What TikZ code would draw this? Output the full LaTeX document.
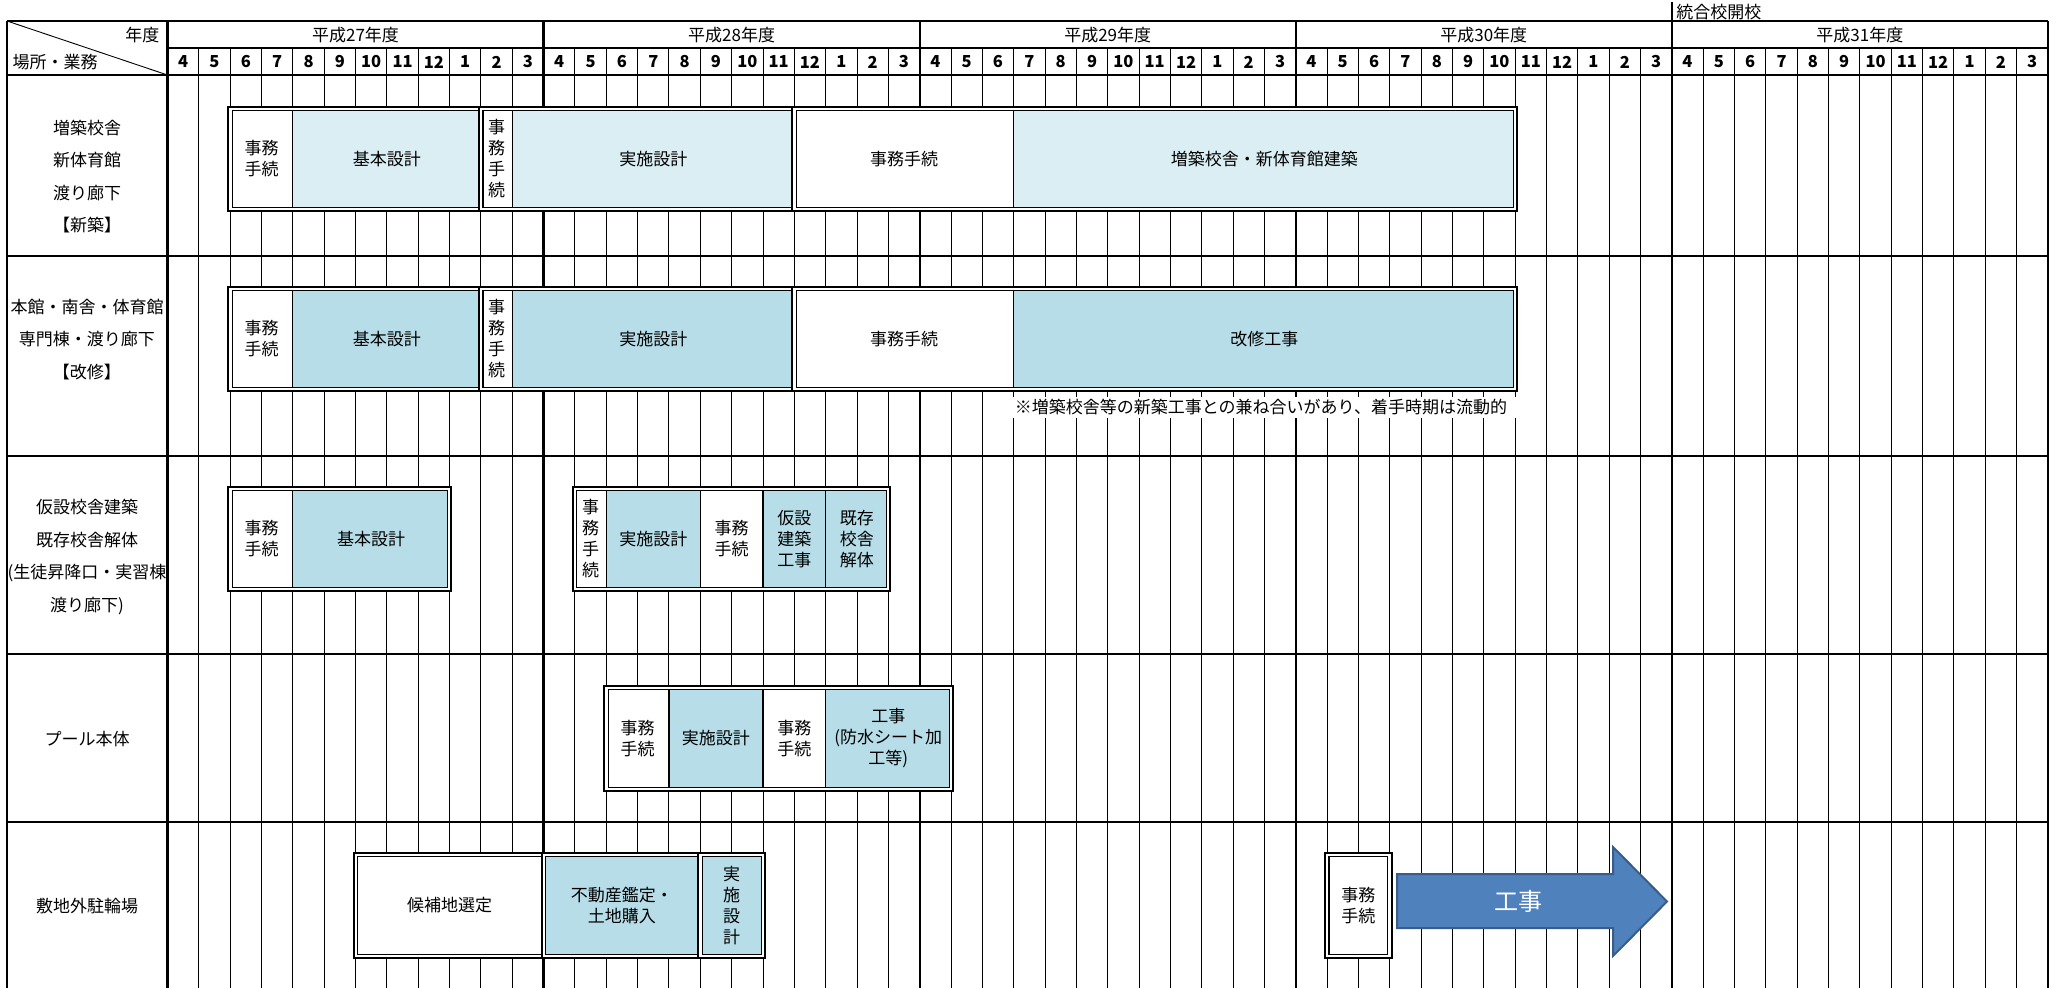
\documentclass[tikz,border=0pt]{standalone}
\usepackage{fontspec}
\setmainfont{Noto Sans CJK JP}
\usepackage{tikz}
\usetikzlibrary{calc}
\definecolor{lblue}{HTML}{DAEEF3}
\definecolor{mblue}{HTML}{B7DEE8}
\definecolor{arwfill}{HTML}{4F81BD}
\definecolor{arwline}{HTML}{385D8A}
\newcommand{\fs}{\fontsize{17}{21}\selectfont}
% 月の列の x 位置
\newcommand{\mx}[1]{167.5+31.34*(#1)}
\tikzset{
    thk/.style={line width=2.2pt, black},
    thn/.style={line width=0.9pt, black},
    seg/.style={draw, line width=1.2pt, inner sep=0pt, outer sep=0pt, align=center, font=\fs},
    wseg/.style={seg, fill=white},
    lseg/.style={seg, fill=lblue},
    bseg/.style={seg, fill=mblue},
    mon/.style={font=\fontsize{16.5}{18}\bfseries},
    lab/.style={align=center, font=\fontsize{17}{32.5}\selectfont},
    arw/.style={fill=arwfill, draw=arwline, line width=2pt, line join=miter}
}
% 区切り枠（二重線）
\newcommand{\dframe}[4]{%
    \draw[white, line width=3.8pt] ({\mx{#1}},{#3}) rectangle ({\mx{#2}},{#4});
    \draw[line width=2pt] ({\mx{#1}-1.9},{#3-1.9}) rectangle ({\mx{#2}+1.9},{#4+1.9});
    \draw[line width=1.1pt] ({\mx{#1}+1.9},{#3+1.9}) rectangle ({\mx{#2}-1.9},{#4-1.9});}
% 作業のセル
\newcommand{\seg}[7]{%
    \node[#1, minimum width={31.34*(#4-#3)}, minimum height={#6-#5}, anchor=north west] (#2) at ({\mx{#3}},{#5}) {#7};}

\begin{document}
\begin{tikzpicture}[x=1pt,y=-1pt,font=\fs]
\useasboundingbox (0,0) rectangle (2056,988);

% ===================== 罫線 =====================
\draw[thk] (7,21) -- (2048,21);
\draw[line width=1.5pt] (167.5,48) -- (2048,48);
\draw[thk] (7,75) -- (2048,75);
\foreach \yy in {256,456,654,822}
    \draw[thk] (7,\yy) -- (2048,\yy);
\draw[thk] (7,21) -- (7,988);
\foreach \i in {1,...,59}
    \draw[thn] ({\mx{\i}},48) -- ({\mx{\i}},988);
\foreach \i in {0,12,24,36,48,60}
    \draw[thk] ({\mx{\i}},21) -- ({\mx{\i}},988);
\draw[thk] ({\mx{48}},2) -- ({\mx{48}},21);
\draw[thn] (7,21) -- ({\mx{0}},75);

% ===================== 見出し =====================
\node[anchor=east] (nendo) at (163,35) {年度};
\node[anchor=west] (basho) at (9,62) {場所・業務};
\foreach \k/\yr in {0/27,1/28,2/29,3/30,4/31}
    \node (yr\yr) at ({\mx{12*\k+6}},35) {平成\yr 年度};
\foreach \i [evaluate=\i as \mm using {int(mod(\i+3,12)+1)}] in {0,...,59}
    \node[mon] (mon\i) at ({\mx{\i+0.5}},62) {\mm};
\node[anchor=west] (kaiko) at ({\mx{48}+1},12) {統合校開校};

% ===================== 場所・業務 =====================
\node[lab] (lab1) at (87,176.5) {増築校舎\\新体育館\\渡り廊下\\【新築】};
\node[lab] (lab2) at (87,339.5) {本館・南舎・体育館\\専門棟・渡り廊下\\【改修】};
\node[lab] (lab3) at (87,557) {仮設校舎建築\\既存校舎解体\\(生徒昇降口・実習棟\\渡り廊下)};
\node[lab] (lab4) at (87,739) {プール本体};
\node[lab] (lab5) at (87,906) {敷地外駐輪場};

% ===================== 新築 =====================
\seg{wseg}{r1a}{2}{4}{109}{209}{事務\\手続}
\seg{lseg}{r1b}{4}{10}{109}{209}{基本設計}
\seg{wseg}{r1c}{10}{11}{109}{209}{事\\務\\手\\続}
\seg{lseg}{r1d}{11}{20}{109}{209}{実施設計}
\seg{wseg}{r1e}{20}{27}{109}{209}{事務手続}
\seg{lseg}{r1f}{27}{43}{109}{209}{増築校舎・新体育館建築}
\dframe{2}{10}{109}{209}
\dframe{10}{20}{109}{209}
\dframe{20}{43}{109}{209}

% ===================== 改修 =====================
\seg{wseg}{r2a}{2}{4}{289}{389}{事務\\手続}
\seg{bseg}{r2b}{4}{10}{289}{389}{基本設計}
\seg{wseg}{r2c}{10}{11}{289}{389}{事\\務\\手\\続}
\seg{bseg}{r2d}{11}{20}{289}{389}{実施設計}
\seg{wseg}{r2e}{20}{27}{289}{389}{事務手続}
\seg{bseg}{r2f}{27}{43}{289}{389}{改修工事}
\dframe{2}{10}{289}{389}
\dframe{10}{20}{289}{389}
\dframe{20}{43}{289}{389}
\fill[white] ({\mx{27}-1},397) rectangle ({\mx{43}+3},418);
\node[anchor=west, inner sep=0pt] (chui) at ({\mx{27}+1},407) {※増築校舎等の新築工事との兼ね合いがあり、着手時期は流動的};

% ===================== 仮設校舎 =====================
\seg{wseg}{r3a}{2}{4}{489}{589}{事務\\手続}
\seg{bseg}{r3b}{4}{9}{489}{589}{基本設計}
\dframe{2}{9}{489}{589}
\seg{wseg}{r3c}{13}{14}{489}{589}{事\\務\\手\\続}
\seg{bseg}{r3d}{14}{17}{489}{589}{実施設計}
\seg{wseg}{r3e}{17}{19}{489}{589}{事務\\手続}
\seg{bseg}{r3f}{19}{21}{489}{589}{仮設\\建築\\工事}
\seg{bseg}{r3g}{21}{23}{489}{589}{既存\\校舎\\解体}
\dframe{13}{23}{489}{589}

% ===================== プール =====================
\seg{wseg}{r4a}{14}{16}{688}{789}{事務\\手続}
\seg{bseg}{r4b}{16}{19}{688}{789}{実施設計}
\seg{wseg}{r4c}{19}{21}{688}{789}{事務\\手続}
\seg{bseg}{r4d}{21}{25}{688}{789}{工事\\(防水シート加\\工等)}
\dframe{14}{25}{688}{789}

% ===================== 駐輪場 =====================
\seg{wseg}{r5a}{6}{12}{855}{956}{候補地選定}
\dframe{6}{12}{855}{956}
\seg{bseg}{r5b}{12}{17}{855}{956}{不動産鑑定・\\土地購入}
\dframe{12}{17}{855}{956}
\seg{bseg}{r5c}{17}{19}{855}{956}{実\\施\\設\\計}
\dframe{17}{19}{855}{956}
\seg{wseg}{r5d}{37}{39}{855}{956}{事務\\手続}
\dframe{37}{39}{855}{956}

% 工事の矢印
\path (1397,874) coordinate (a1)
      (1613,874) coordinate (a2)
      (1613,847) coordinate (a3)
      (1667,901.5) coordinate (tip)
      (1613,956) coordinate (a4)
      (1613,928) coordinate (a5)
      (1397,928) coordinate (a6);
\draw[arw] (a1) -- (a2) -- (a3) -- (tip) -- (a4) -- (a5) -- (a6) -- cycle;
\node[white, font=\fontsize{24}{26}\selectfont] (koji) at (1518,901) {工事};

\end{tikzpicture}
\end{document}
